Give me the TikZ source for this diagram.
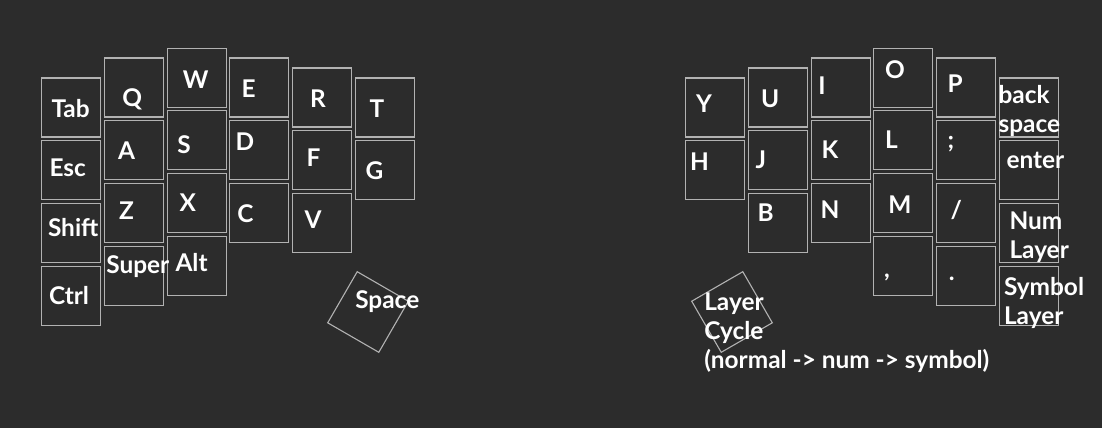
\documentclass[tikz,border=0pt]{standalone}
\usepackage{fontspec}
\setmainfont{Lato}
\definecolor{bg}{RGB}{44,44,44}
\definecolor{keyline}{RGB}{178,178,178}
\newcommand{\keystack}[1]{\vtop{\baselineskip=28.7pt\lineskiplimit=-100pt\lineskip=0pt #1}}
\tikzset{
  keybox/.style={draw=keyline, line width=1.1pt, minimum size=59pt, inner sep=0pt, outer sep=0pt},
  lbl/.style={text=white, font=\fontsize{24.4}{28.7}\selectfont\bfseries, inner sep=0pt, outer sep=0pt, anchor=base west},
}
\begin{document}
\begin{tikzpicture}[x=1pt,y=-1pt]
\fill[bg] (0,0) rectangle (1102,428);
\useasboundingbox (0,0) rectangle (1102,428);
% ---------- left half keys ----------
\node[keybox] (kTab)   at (71.3,107.5) {};
\node[keybox] (kEsc)   at (71.3,170.2) {};
\node[keybox] (kShift) at (71.3,233.0) {};
\node[keybox] (kCtrl)  at (71.3,295.7) {};
\node[keybox] (kQ)     at (133.9,87.5) {};
\node[keybox] (kA)     at (133.9,150.2) {};
\node[keybox] (kZ)     at (133.9,213.0) {};
\node[keybox] (kSuper) at (133.9,275.7) {};
\node[keybox] (kW)     at (196.6,77.7) {};
\node[keybox] (kS)     at (196.6,140.4) {};
\node[keybox] (kX)     at (196.6,203.2) {};
\node[keybox] (kAlt)   at (196.6,265.9) {};
\node[keybox] (kE)     at (259.3,87.5) {};
\node[keybox] (kD)     at (259.3,150.2) {};
\node[keybox] (kC)     at (259.3,213.0) {};
\node[keybox] (kR)     at (321.9,97.5) {};
\node[keybox] (kF)     at (321.9,160.2) {};
\node[keybox] (kV)     at (321.9,223.0) {};
\node[keybox] (kT)     at (384.6,107.5) {};
\node[keybox] (kG)     at (384.6,170.2) {};
\node[keybox, rotate=-30] (kSpace) at (368,312) {};
% ---------- right half keys ----------
\node[keybox] (kY)     at (715.3,107.5) {};
\node[keybox] (kH)     at (715.3,170.2) {};
\node[keybox] (kU)     at (778.0,97.5) {};
\node[keybox] (kJ)     at (778.0,160.2) {};
\node[keybox] (kB)     at (778.0,223.0) {};
\node[keybox] (kI)     at (840.7,87.5) {};
\node[keybox] (kK)     at (840.7,150.2) {};
\node[keybox] (kN)     at (840.7,213.0) {};
\node[keybox] (kO)     at (903.3,77.7) {};
\node[keybox] (kL)     at (903.3,140.4) {};
\node[keybox] (kM)     at (903.3,203.2) {};
\node[keybox] (kComma) at (903.3,265.9) {};
\node[keybox] (kP)     at (966.0,87.5) {};
\node[keybox] (kSemi)  at (966.0,150.2) {};
\node[keybox] (kSlash) at (966.0,213.0) {};
\node[keybox] (kDot)   at (966.0,275.7) {};
\node[keybox] (kBksp)  at (1028.7,107.5) {};
\node[keybox] (kEnter) at (1028.7,170.2) {};
\node[keybox] (kNum)   at (1028.7,233.0) {};
\node[keybox] (kSym)   at (1028.7,295.7) {};
\node[keybox, rotate=30] (kCycle) at (732,312) {};
% ---------- left half labels ----------
\node[lbl] (tTab)   at (51.5,117) {Tab};
\node[lbl] (tEsc)   at (49.5,176.7) {Esc};
\node[lbl] (tShift) at (48,236) {Shift};
\node[lbl] (tCtrl)  at (49,304) {Ctrl};
\node[lbl] (tQ)     at (122.3,106.5) {Q};
\node[lbl] (tA)     at (118,159.3) {A};
\node[lbl] (tZ)     at (119,219.3) {Z};
\node[lbl] (tSuper) at (106.3,273.5) {Super};
\node[lbl] (tW)     at (182.8,88.3) {W};
\node[lbl] (tS)     at (177.3,153.3) {S};
\node[lbl] (tX)     at (179.5,211.7) {X};
\node[lbl] (tAlt)   at (175.5,271) {Alt};
\node[lbl] (tE)     at (241.5,97.3) {E};
\node[lbl] (tD)     at (235.5,150) {D};
\node[lbl] (tC)     at (237.3,222) {C};
\node[lbl] (tR)     at (310,107.7) {R};
\node[lbl] (tF)     at (306.5,166.7) {F};
\node[lbl] (tV)     at (304.5,228.3) {V};
\node[lbl] (tT)     at (369.5,117.3) {T};
\node[lbl] (tG)     at (365.7,179.3) {G};
\node[lbl] (tSpace) at (355.3,308.3) {Space};
% ---------- right half labels ----------
\node[lbl] (tY)     at (696.2,112.7) {Y};
\node[lbl] (tH)     at (690,170) {H};
\node[lbl] (tU)     at (761,107.7) {U};
\node[lbl] (tJ)     at (755.5,168.3) {J};
\node[lbl] (tB)     at (757.6,221.7) {B};
\node[lbl] (tI)     at (818.3,94) {I};
\node[lbl] (tK)     at (821.6,158.3) {K};
\node[lbl] (tN)     at (820.6,218.3) {N};
\node[lbl] (tO)     at (885,78.3) {O};
\node[lbl] (tL)     at (885,148.3) {L};
\node[lbl] (tM)     at (888.3,213.3) {M};
\node[lbl] (tComma) at (884,277) {,};
\node[lbl] (tP)     at (947.6,92.7) {P};
\node[lbl] (tSemi)  at (947.5,148.5) {;};
\node[lbl] (tSlash) at (950.5,218.5) {/};
\node[lbl] (tDot)   at (948.8,280.7) {.};
\node[lbl] (tBksp)  at (998.5,103.3) {\keystack{\hbox{back}\hbox{space}}};
\node[lbl] (tEnter) at (1006.5,168.3) {enter};
\node[lbl] (tNum)   at (1009.5,229.3) {\keystack{\hbox{Num}\hbox{Layer}}};
\node[lbl] (tSym)   at (1004,295.5) {\keystack{\hbox{Symbol}\hbox{Layer}}};
\node[lbl] (tCycle) at (704.3,310.7) {\keystack{\hbox{Layer}\hbox{Cycle}\hbox{(normal -> num -> symbol)}}};
\end{tikzpicture}
\end{document}
